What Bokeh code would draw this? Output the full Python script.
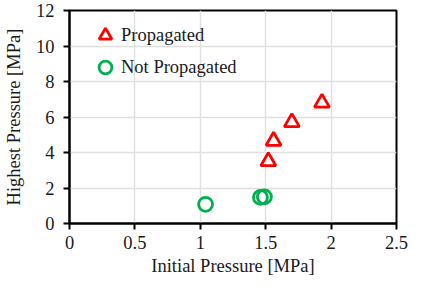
from bokeh.plotting import figure
from bokeh.embed import file_html
from bokeh.resources import INLINE
from bokeh.models import FixedTicker, Range1d

prop_x = [1.52, 1.56, 1.70, 1.93]
prop_y = [3.5, 4.65, 5.7, 6.8]
notprop_x = [1.04, 1.46, 1.49]
notprop_y = [1.08, 1.47, 1.5]
x_ticks = [0, 0.5, 1, 1.5, 2, 2.5]
y_ticks = [0, 2, 4, 6, 8, 10, 12]

p = figure(width=408, height=278, output_backend="svg", toolbar_location=None,
           x_range=Range1d(0, 2.5), y_range=Range1d(0, 12),
           min_border_left=62, min_border_right=12, min_border_top=10, min_border_bottom=50)

p.scatter(prop_x, prop_y, marker="triangle", size=15, fill_color=None,
          line_color="#ff0000", line_width=2.8, legend_label="Propagated")
p.scatter(notprop_x, notprop_y, marker="circle", size=14, fill_color=None,
          line_color="#00b050", line_width=2.8, legend_label="Not Propagated")

font = "Liberation Serif"
for ax in (p.xaxis, p.yaxis):
    ax.axis_line_width = 2
    ax.axis_line_color = "black"
    ax.major_tick_line_width = 2
    ax.major_tick_line_color = "black"
    ax.major_tick_out = 6
    ax.major_tick_in = 0
    ax.minor_tick_line_color = None
    ax.major_label_text_font = font
    ax.major_label_text_font_size = "18.5px"
    ax.major_label_text_color = "#1a1a1a"
    ax.axis_label_text_font = font
    ax.axis_label_text_font_size = "18.5px"
    ax.axis_label_text_font_style = "normal"
    ax.axis_label_text_color = "#1a1a1a"

p.xaxis.ticker = FixedTicker(ticks=x_ticks)
p.yaxis.ticker = FixedTicker(ticks=y_ticks)
p.xaxis.axis_label = "Initial Pressure [MPa]"
p.yaxis.axis_label = "Highest Pressure [MPa]"
p.xaxis.major_label_standoff = 6
p.yaxis.major_label_standoff = 9
p.xaxis.axis_label_standoff = 4
p.yaxis.axis_label_standoff = 9

p.grid.grid_line_color = "#e0e0e0"
p.grid.grid_line_width = 1.5
p.outline_line_color = "black"
p.outline_line_width = 2

p.legend.location = (20, 140)
p.legend.border_line_color = None
p.legend.background_fill_alpha = 0
p.legend.label_text_font = font
p.legend.label_text_font_size = "18.5px"
p.legend.label_text_color = "#1a1a1a"
p.legend.glyph_width = 32
p.legend.glyph_height = 32
p.legend.label_height = 32
p.legend.label_standoff = 0
p.legend.spacing = 0
p.legend.margin = 0
p.legend.padding = 0

open("out.html", "w").write(file_html(p, INLINE))
